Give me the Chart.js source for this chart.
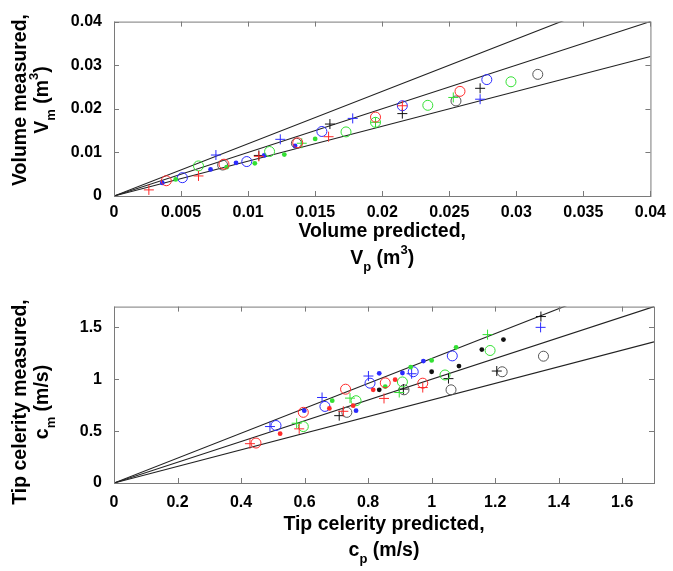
<!DOCTYPE html>
<html>
<head>
<meta charset="utf-8">
<script src="https://cdn.jsdelivr.net/npm/chart.js@4.4.0/dist/chart.umd.min.js"></script>
<style>
  html, body { margin: 0; padding: 0; background: #fff; }
  #wrap { position: relative; width: 673px; height: 571px; }
  .box { position: absolute; left: 0; width: 673px; }
</style>
</head>
<body>
<div id="wrap">
  <div class="box" style="top:0;height:285px"><canvas id="volChart"></canvas></div>
  <div class="box" style="top:285px;height:286px"><canvas id="celChart"></canvas></div>
</div>
<script>
// ---- volume panel: [predicted, measured] in m^3
const volTicksX = [0, 0.005, 0.01, 0.015, 0.02, 0.025, 0.03, 0.035, 0.04];
const volTicksY = [0, 0.01, 0.02, 0.03, 0.04];
const volRedPlus = [[0.0026, 0.0014], [0.0063, 0.0046], [0.0108, 0.0091], [0.0160, 0.0136], [0.0215, 0.0207]];
const volRedCircle = [[0.0039, 0.0035], [0.0082, 0.0073], [0.0137, 0.0122], [0.0195, 0.0181], [0.0258, 0.0240]];
const volGreenPlus = [[0.0140, 0.0121], [0.0195, 0.0169], [0.0253, 0.0226]];
const volGreenCircle = [[0.0063, 0.0069], [0.0116, 0.0102], [0.0173, 0.0147], [0.0195, 0.0169], [0.0234, 0.0208], [0.0296, 0.0262]];
const volGreenDot = [[0.0046, 0.0038], [0.0084, 0.0066], [0.0105, 0.0075], [0.0127, 0.0095], [0.0150, 0.0131]];
const volBluePlus = [[0.0076, 0.0094], [0.0124, 0.0130], [0.0178, 0.0178], [0.0273, 0.0222]];
const volBlueCircle = [[0.0051, 0.0042], [0.0099, 0.0079], [0.0155, 0.0148], [0.0215, 0.0207], [0.0278, 0.0267]];
const volBlueDot = [[0.0036, 0.0030], [0.0072, 0.0061], [0.0091, 0.0076], [0.0112, 0.0093], [0.0135, 0.0115]];
const volBlackPlus = [[0.0108, 0.0093], [0.0161, 0.0165], [0.0215, 0.0189], [0.0273, 0.0247]];
const volBlackCircle = [[0.0081, 0.0071], [0.0136, 0.0121], [0.0255, 0.0218], [0.0316, 0.0279]];
const volLineUpper = [[0, 0], [0.04, 0.048]];
const volLineEqual = [[0, 0], [0.04, 0.04]];
const volLineLower = [[0, 0], [0.04, 0.032]];

// ---- tip celerity panel: [predicted, measured] in m/s
const celTicksX = [0, 0.2, 0.4, 0.6, 0.8, 1, 1.2, 1.4, 1.6];
const celTicksY = [0, 0.5, 1, 1.5];
const celRedPlus = [[0.428, 0.379], [0.583, 0.522], [0.722, 0.691], [0.850, 0.815], [0.972, 0.920]];
const celRedCircle = [[0.447, 0.385], [0.596, 0.681], [0.729, 0.904], [0.854, 0.965], [0.972, 0.962]];
const celRedDot = [[0.523, 0.475], [0.678, 0.719], [0.753, 0.745], [0.816, 0.898], [0.885, 0.996]];
const celGreenPlus = [[0.575, 0.576], [0.743, 0.818], [0.898, 0.872], [1.176, 1.430]];
const celGreenCircle = [[0.596, 0.544], [0.762, 0.793], [0.908, 0.974], [1.042, 1.041], [1.184, 1.277]];
const celGreenDot = [[0.687, 0.793], [0.854, 0.929], [0.934, 1.117], [1.000, 1.181], [1.077, 1.308]];
const celBluePlus = [[0.491, 0.544], [0.655, 0.824], [0.801, 1.031], [0.937, 1.053], [1.343, 1.500]];
const celBlueCircle = [[0.510, 0.554], [0.664, 0.738], [0.806, 0.962], [0.942, 1.072], [1.065, 1.225]];
const celBlueDot = [[0.599, 0.697], [0.762, 0.697], [0.835, 1.057], [0.908, 1.060], [0.974, 1.175]];
const celBlackPlus = [[0.709, 0.649], [0.911, 0.905], [1.053, 1.006], [1.205, 1.079], [1.344, 1.604]];
const celBlackCircle = [[0.733, 0.681], [0.913, 0.898], [1.061, 0.898], [1.222, 1.072], [1.352, 1.222]];
const celBlackDot = [[0.835, 0.898], [1.000, 1.072], [1.086, 1.127], [1.158, 1.286], [1.226, 1.382]];
const celLineUpper = [[0, 0], [1.7, 2.04]];
const celLineEqual = [[0, 0], [1.7, 1.7]];
const celLineLower = [[0, 0], [1.7, 1.36]];

const RED = "#ff2a2a";
const GREEN = "#33e033";
const BLUE = "#2b2bff";
const BLACK = "#111111";
const FONT = "'Liberation Sans', Arial, sans-serif";

const toPts = arr => arr.map(p => ({ x: p[0], y: p[1] }));

function plus(data, color) {
  return { data: toPts(data), pointStyle: "cross", pointRadius: 5, borderColor: color, borderWidth: 1, backgroundColor: color };
}
function circle(data, color) {
  return { data: toPts(data), pointStyle: "circle", pointRadius: 5, borderColor: color, borderWidth: 1, backgroundColor: "rgba(0,0,0,0)" };
}
function dot(data, color) {
  return { data: toPts(data), pointStyle: "circle", pointRadius: 2.4, borderWidth: 0, backgroundColor: color };
}
function refLine(data) {
  return { data: toPts(data), showLine: true, pointRadius: 0, borderColor: "#222", borderWidth: 1.1, fill: false };
}

// rich text: [text, kind] with kind "n" normal, "b" subscript, "p" superscript
function drawRich(ctx, parts, cx, cy, size) {
  const small = Math.round(size * 0.68);
  let w = 0;
  parts.forEach(([t, k]) => {
    ctx.font = "bold " + (k === "n" ? size : small) + "px " + FONT;
    w += ctx.measureText(t).width;
  });
  let x = cx - w / 2;
  ctx.textBaseline = "middle";
  ctx.textAlign = "left";
  parts.forEach(([t, k]) => {
    ctx.font = "bold " + (k === "n" ? size : small) + "px " + FONT;
    const dy = k === "b" ? size * 0.42 : (k === "p" ? -size * 0.42 : 0);
    ctx.fillText(t, x, cy + dy);
    x += ctx.measureText(t).width;
  });
}

function framePlugin(titles) {
  return {
    id: "frame",
    afterDraw(chart) {
      const { ctx, chartArea: a, scales } = chart;
      ctx.save();
      ctx.strokeStyle = "#7a7a7a";
      ctx.lineWidth = 1;
      ctx.strokeRect(a.left + 0.5, a.top + 0.5, a.right - a.left, a.bottom - a.top);
      ctx.beginPath();
      scales.x.ticks.forEach(t => {
        const px = Math.round(scales.x.getPixelForValue(t.value)) + 0.5;
        ctx.moveTo(px, a.bottom); ctx.lineTo(px, a.bottom - 5);
        ctx.moveTo(px, a.top); ctx.lineTo(px, a.top + 5);
      });
      scales.y.ticks.forEach(t => {
        const py = Math.round(scales.y.getPixelForValue(t.value)) + 0.5;
        ctx.moveTo(a.left, py); ctx.lineTo(a.left + 5, py);
        ctx.moveTo(a.right, py); ctx.lineTo(a.right - 5, py);
      });
      ctx.stroke();

      ctx.fillStyle = "#000";
      const midX = (a.left + a.right) / 2;
      const midY = titles.yCenter;
      drawRich(ctx, [[titles.x1, "n"]], midX, a.bottom + titles.off1, 19.5);
      drawRich(ctx, titles.x2, midX, a.bottom + titles.off2, 19.5);
      ctx.translate(21, midY);
      ctx.rotate(-Math.PI / 2);
      drawRich(ctx, [[titles.y1, "n"]], 0, 0, 19.5);
      ctx.restore();
      ctx.save();
      ctx.fillStyle = "#000";
      ctx.translate(43, midY);
      ctx.rotate(-Math.PI / 2);
      drawRich(ctx, titles.y2, 0, 0, 19.5);
      ctx.restore();
    }
  };
}

function makeOptions(ticksX, ticksY, max, padTop, xHeight, xPad) {
  const tickFont = { family: FONT, size: 16, weight: "bold" };
  return {
    responsive: true,
    maintainAspectRatio: false,
    animation: false,
    layout: { padding: { top: padTop, right: 19, left: 0, bottom: 0 } },
    plugins: { legend: { display: false }, tooltip: { enabled: false } },
    scales: {
      x: {
        type: "linear", min: 0, max: max,
        afterBuildTicks: s => { s.ticks = ticksX.map(v => ({ value: v })); },
        afterFit: s => { s.height = xHeight; },
        grid: { display: false, drawTicks: false },
        border: { display: false },
        ticks: { font: tickFont, color: "#000", padding: xPad, maxRotation: 0, autoSkip: false, callback: v => String(v) }
      },
      y: {
        type: "linear", min: 0, max: max,
        afterBuildTicks: s => { s.ticks = ticksY.map(v => ({ value: v })); },
        afterFit: s => { s.width = 114; },
        grid: { display: false, drawTicks: false },
        border: { display: false },
        ticks: { font: tickFont, color: "#000", padding: 12, autoSkip: false, callback: v => String(v) }
      }
    }
  };
}

new Chart(document.getElementById("volChart"), {
  type: "scatter",
  data: {
    datasets: [
      plus(volRedPlus, RED), circle(volRedCircle, RED),
      plus(volGreenPlus, GREEN), circle(volGreenCircle, GREEN), dot(volGreenDot, GREEN),
      plus(volBluePlus, BLUE), circle(volBlueCircle, BLUE), dot(volBlueDot, BLUE),
      plus(volBlackPlus, BLACK), circle(volBlackCircle, "#555"),
      refLine(volLineUpper), refLine(volLineEqual), refLine(volLineLower)
    ]
  },
  options: makeOptions(volTicksX, volTicksY, 0.04, 18, 89, 7),
  plugins: [framePlugin({
    x1: "Volume predicted,",
    x2: [["V", "n"], ["p", "b"], [" (m", "n"], ["3", "p"], [")", "n"]],
    y1: "Volume measured,",
    y2: [["V", "n"], ["m", "b"], [" (m", "n"], ["3", "p"], [")", "n"]],
    yCenter: 100, off1: 36, off2: 63
  })]
});

new Chart(document.getElementById("celChart"), {
  type: "scatter",
  data: {
    datasets: [
      plus(celRedPlus, RED), circle(celRedCircle, RED), dot(celRedDot, RED),
      plus(celGreenPlus, GREEN), circle(celGreenCircle, GREEN), dot(celGreenDot, GREEN),
      plus(celBluePlus, BLUE), circle(celBlueCircle, BLUE), dot(celBlueDot, BLUE),
      plus(celBlackPlus, BLACK), circle(celBlackCircle, "#555"), dot(celBlackDot, BLACK),
      refLine(celLineUpper), refLine(celLineEqual), refLine(celLineLower)
    ]
  },
  options: makeOptions(celTicksX, celTicksY, 1.7, 20, 88, 10),
  plugins: [framePlugin({
    x1: "Tip celerity predicted,",
    x2: [["c", "n"], ["p", "b"], [" (m/s)", "n"]],
    y1: "Tip celerity measured,",
    y2: [["c", "n"], ["m", "b"], [" (m/s)", "n"]],
    yCenter: 117, off1: 42, off2: 68
  })]
});
</script>
</body>
</html>
